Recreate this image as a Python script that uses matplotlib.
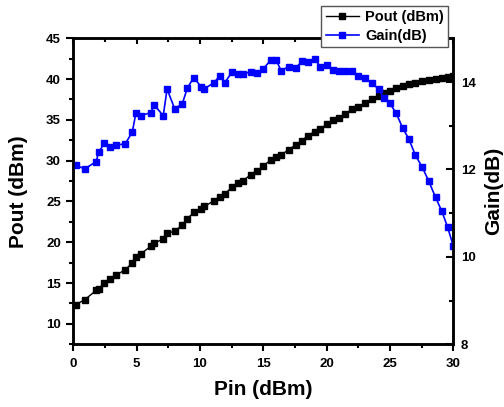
import matplotlib
matplotlib.use('Agg')
import matplotlib.pyplot as plt
from matplotlib.ticker import MultipleLocator

plt.rcParams['font.family'] = ['Liberation Sans', 'DejaVu Sans']
plt.rcParams['font.weight'] = 'bold'

pin = [0.2, 0.9, 1.8, 2.0, 2.45, 2.9, 3.35, 4.1, 4.65, 4.95, 5.35, 6.1, 6.4, 7.1, 7.4,
       8.0, 8.6, 9.0, 9.5, 10.1, 10.35, 11.1, 11.55, 11.95, 12.55, 13.0, 13.4, 14.0,
       14.5, 15.0, 15.6, 16.0, 16.4, 17.0, 17.55, 18.05, 18.5, 19.05, 19.5, 20.0, 20.5,
       21.0, 21.45, 22.0, 22.5, 23.0, 23.55, 24.1, 24.5, 25.0, 25.5, 26.0, 26.5, 27.0,
       27.55, 28.05, 28.6, 29.1, 29.55, 30.0]

pout = [12.36, 12.97, 14.1, 14.3, 15.02, 15.51, 15.95, 16.64, 17.46, 18.2, 18.6, 19.5,
        19.91, 20.4, 21.14, 21.33, 22.15, 22.88, 23.66, 24.07, 24.39, 25.09, 25.61, 25.95,
        26.76, 27.25, 27.57, 28.27, 28.76, 29.37, 30.11, 30.51, 30.72, 31.33, 31.94, 32.47,
        33.04, 33.57, 33.86, 34.51, 34.95, 35.25, 35.74, 36.31, 36.63, 37.04, 37.53, 37.98,
        38.27, 38.59, 38.88, 39.16, 39.37, 39.57, 39.74, 39.9, 40.06, 40.18, 40.3, 40.39]

gain = [12.10, 12.01, 12.18, 12.39, 12.60, 12.52, 12.55, 12.59, 12.85, 13.30, 13.23, 13.30,
        13.47, 13.23, 13.84, 13.39, 13.50, 13.86, 14.10, 13.89, 13.85, 13.98, 14.14, 13.98,
        14.24, 14.19, 14.19, 14.23, 14.20, 14.30, 14.51, 14.51, 14.26, 14.35, 14.32, 14.47,
        14.45, 14.53, 14.35, 14.39, 14.28, 14.26, 14.26, 14.26, 14.14, 14.09, 13.98, 13.84,
        13.64, 13.51, 13.28, 12.95, 12.69, 12.33, 12.05, 11.74, 11.36, 11.04, 10.68, 10.25]

fig = plt.figure(figsize=(5.04, 4.07), dpi=100)
ax = fig.add_axes([0.1455, 0.1541, 0.7539, 0.7518])
ax2 = ax.twinx()

l1, = ax.plot(pin, pout, color='black', marker='s', ms=5, lw=1.0, label='Pout (dBm)')
l2, = ax2.plot(pin, gain, color='blue', marker='s', ms=5, lw=1.2, label='Gain(dB)')

ax.set_xlim(0, 30)
ax.set_ylim(7.5, 45)
ax2.set_ylim(8, 15)
ax.xaxis.set_major_locator(MultipleLocator(5))
ax.xaxis.set_minor_locator(MultipleLocator(2.5))
ax.yaxis.set_major_locator(MultipleLocator(5))
ax.yaxis.set_minor_locator(MultipleLocator(2.5))
ax2.yaxis.set_major_locator(MultipleLocator(2))
ax2.yaxis.set_minor_locator(MultipleLocator(1))

for a in (ax, ax2):
    for sp in a.spines.values():
        sp.set_linewidth(1.8)

ax.tick_params(axis='x', which='both', direction='out', top=False, bottom=True,
               labelsize=9.5, pad=5, width=1.5)
ax.tick_params(axis='x', which='major', length=5)
ax.tick_params(axis='x', which='minor', length=3)
ax.tick_params(axis='y', which='both', direction='out', left=True, right=False,
               labelsize=9.5, pad=4, width=1.5)
ax.tick_params(axis='y', which='major', length=5)
ax.tick_params(axis='y', which='minor', length=3)

ax2.xaxis.set_visible(True)
ax2.tick_params(axis='x', which='both', bottom=False, top=True, labelbottom=False,
                labeltop=False, direction='in', width=1.5)
ax2.tick_params(axis='x', which='major', length=4)
ax2.tick_params(axis='x', which='minor', length=3)
ax2.tick_params(axis='y', which='both', direction='in', right=True, left=False,
                labelsize=9.5, pad=5.5, width=1.5)
ax2.tick_params(axis='y', which='major', length=5)
ax2.tick_params(axis='y', which='minor', length=3)

ax.set_xlabel('Pin (dBm)', fontsize=15, fontweight='bold', labelpad=7)
ax.set_ylabel('Pout (dBm)', fontsize=15, fontweight='bold')
ax.yaxis.set_label_coords(-0.118, 0.5)
ax2.set_ylabel('Gain(dB)', fontsize=15, fontweight='bold', labelpad=6)

leg = fig.legend(handles=[l1, l2], loc='upper right', bbox_to_anchor=(0.889, 0.985),
                 fontsize=10.5, frameon=True, fancybox=False, framealpha=1,
                 edgecolor='#555555', handlelength=2.3, handletextpad=0.4,
                 labelspacing=0.3, borderpad=0.3, borderaxespad=0)
leg.get_frame().set_linewidth(1.0)

fig.savefig('out.png', dpi=100, facecolor='white')
